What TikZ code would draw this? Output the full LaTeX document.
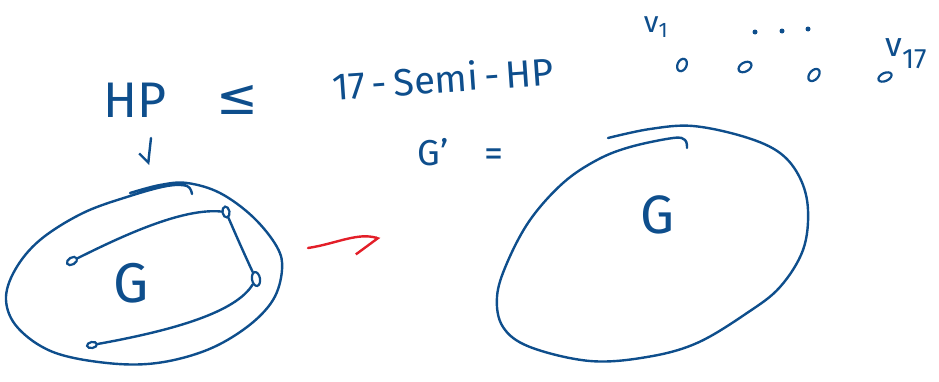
\documentclass[tikz,border=0pt]{standalone}
\usepackage{fontspec}
\setmainfont{Fira Sans}
\newfontfamily\symfont{DejaVu Sans}
\usetikzlibrary{shapes.geometric, arrows.meta, positioning}
\definecolor{inkblue}{HTML}{0E4E8C}
\definecolor{inkred}{HTML}{E31E28}
\tikzset{
  ink/.style={draw=inkblue, line width=2.4pt, line cap=round, line join=round},
  redink/.style={draw=inkred, line width=2.4pt, line cap=round, line join=round},
  vtx/.style={ellipse, draw=inkblue, line width=2.2pt, minimum width=9pt, minimum height=12pt, inner sep=0pt},
  dot/.style={circle, fill=inkblue, minimum size=5pt, inner sep=0pt},
  hand/.style={text=inkblue, inner sep=0pt, font=\fontsize{#1}{#1}\selectfont}
}
\begin{document}
\begin{tikzpicture}[x=1pt, y=-1pt]
\useasboundingbox (0,0) rectangle (939,381);

% Headline
\node[hand=50] (hp) at (135,100) {HP};
\node[hand=50] (leq) at (237,100) {\symfont ≤};
\node[hand=38, rotate=4] (semi) at (443,78) {17\,-\,Semi\,-\,HP};

% New vertices v_1 ... v_17
\node[hand=30] (v1) at (656,27) {v\textsubscript{1}};
\node[hand=34] (v17) at (906,54) {v\raisebox{-12pt}{\fontsize{28}{28}\selectfont 17}};
\node[vtx, minimum width=9pt, minimum height=13pt, rotate=-25] (u1) at (682,65) {};
\node[vtx, minimum width=9pt, minimum height=14pt, rotate=-60] (u2) at (745,67) {};
\node[vtx, minimum width=9pt, minimum height=14pt, rotate=-40] (u3) at (814,75) {};
\node[vtx, minimum width=8pt, minimum height=14pt, rotate=-65] (u4) at (885,77) {};
\node[dot] (d1) at (755,32) {};
\node[dot] (d2) at (782,31) {};
\node[dot] (d3) at (808,29) {};

% HP maps to G
\coordinate (hpa) at (151,138);
\coordinate (hpb) at (148,165);
\draw[ink, -{Straight Barb[right, length=8pt, width=20pt]}] (hpa) -- (hpb);

% Left graph G with a path inside
\draw[ink] plot[smooth, tension=0.6] coordinates {(130,193) (160,185) (187,183) (220,193) (253,217) (277,247) (282,270) (273,300) (247,327) (207,350) (157,363) (107,363) (53,352) (18,328) (6,300) (15,270) (40,240) (83,213) (130,196) (167,186) (187,186) (192,194)};
\node[hand=56] (gl) at (131,283) {G};
\node[vtx, minimum width=7pt, minimum height=11pt, rotate=-60] (a) at (72,261) {};
\node[vtx, minimum width=7pt, minimum height=11pt, rotate=10] (b) at (226,212) {};
\node[vtx, minimum width=8pt, minimum height=14pt, rotate=10] (c) at (256,279) {};
\node[vtx, minimum width=6pt, minimum height=10pt, rotate=-80] (d) at (92,345) {};
\draw[ink] (a) .. controls (130,232) and (185,208) .. (b);
\draw[ink] (b) .. controls (238,240) and (248,262) .. (c);
\draw[ink] (c) .. controls (236,312) and (175,330) .. (d);

% Reduction arrow
\coordinate (rs) at (308,248);
\coordinate (re) at (380,239);
\draw[redink, -{Straight Barb[right, length=16pt, width=44pt]}] (rs) .. controls (335,244) and (358,232) .. (re);

% Right graph G'
\node[hand=36] (gp) at (433,152) {G'};
\node[hand=38] (eq) at (494,158) {=};
\draw[ink] plot[smooth, tension=0.6] coordinates {(608,138) (650,129) (693,126) (745,137) (780,153) (800,178) (808,210) (803,250) (780,287) (747,313) (697,343) (647,357) (590,361) (530,347) (503,327) (497,297) (507,263) (530,220) (563,183) (597,160) (630,147) (673,138) (685,140) (687,148)};
\node[hand=54] (gr) at (658,215) {G};
\end{tikzpicture}
\end{document}
